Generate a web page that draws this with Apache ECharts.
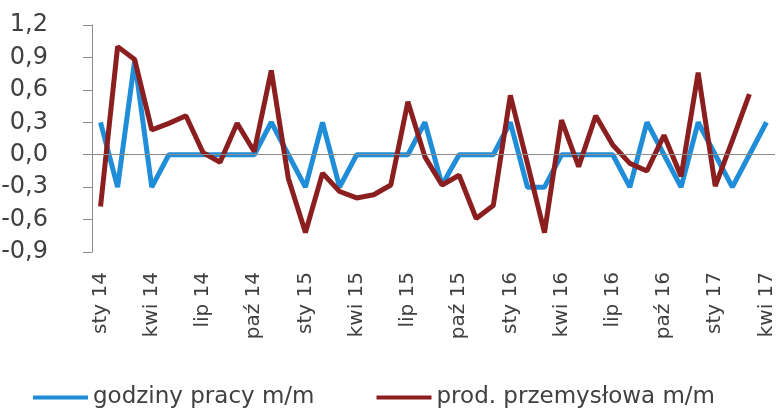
<!DOCTYPE html>
<html>
<head>
<meta charset="utf-8">
<script src="https://cdn.jsdelivr.net/npm/echarts@6/dist/echarts.min.js"></script>
<style>
  html, body { margin: 0; padding: 0; background: #fff; }
  #chart { width: 778px; height: 410px; }
</style>
</head>
<body>
<div id="chart"></div>
<script>
const months = ["sty", "lut", "mar", "kwi", "maj", "cze", "lip", "sie", "wrz", "paź", "lis", "gru"];
const categories = [];
for (const yr of ["14", "15", "16", "17"]) {
  for (const m of months) categories.push(m + " " + yr);
}
categories.length = 40; // sty 14 .. kwi 17

const godzinyPracy = [
  0.3, -0.3, 0.87, -0.3, 0, 0, 0, 0, 0, 0,
  0.3, 0, -0.3, 0.3, -0.3, 0, 0, 0, 0, 0.3,
  -0.28, 0, 0, 0, 0.3, -0.3, -0.3, 0, 0, 0,
  0, -0.3, 0.3, 0, -0.3, 0.3, 0, -0.3, 0, 0.3
];
const prodPrzemyslowa = [
  -0.48, 1.0, 0.88, 0.23, 0.29, 0.36, 0.02, -0.07, 0.29, 0.03,
  0.78, -0.22, -0.72, -0.17, -0.34, -0.4, -0.37, -0.28, 0.49, -0.02,
  -0.28, -0.19, -0.59, -0.47, 0.55, -0.08, -0.72, 0.32, -0.11, 0.36,
  0.09, -0.08, -0.15, 0.18, -0.2, 0.76, -0.29, 0.13, 0.56, null
];

const chart = echarts.init(document.getElementById("chart"));
const font = "'DejaVu Sans', sans-serif";

chart.setOption({
  animation: false,
  grid: { left: 92, right: 3, top: 25, bottom: 158, outerBoundsMode: "none" },
  legend: {
    top: 381,
    left: 28,
    icon: "rect",
    itemWidth: 55,
    itemHeight: 4,
    itemGap: 62,
    textStyle: { fontFamily: font, fontSize: 23, color: "#404040" },
    data: ["godziny pracy m/m", "prod. przemysłowa m/m"]
  },
  xAxis: {
    type: "category",
    data: categories,
    boundaryGap: true,
    axisLine: { show: false },
    axisTick: { show: false },
    axisLabel: {
      interval: 2,
      rotate: 90,
      margin: 20,
      fontFamily: font,
      fontSize: 20,
      color: "#404040"
    }
  },
  yAxis: {
    type: "value",
    min: -0.9,
    max: 1.2,
    interval: 0.3,
    splitLine: { show: false },
    axisLine: { show: true, lineStyle: { color: "#8c8c8c", width: 1 } },
    axisTick: { show: true, length: 9, lineStyle: { color: "#8c8c8c" } },
    axisLabel: {
      margin: 44,
      align: "right",
      fontFamily: font,
      fontSize: 24,
      color: "#404040",
      formatter: v => v.toFixed(1).replace(".", ",")
    }
  },
  series: [
    {
      name: "godziny pracy m/m",
      type: "line",
      data: godzinyPracy,
      symbol: "none",
      lineStyle: { color: "#1f8dd8", width: 5 },
      itemStyle: { color: "#1f8dd8" },
      markLine: {
        silent: true,
        symbol: "none",
        label: { show: false },
        lineStyle: { color: "#8c8c8c", width: 1, type: "solid" },
        data: [{ yAxis: 0 }]
      }
    },
    {
      name: "prod. przemysłowa m/m",
      type: "line",
      data: prodPrzemyslowa,
      symbol: "none",
      lineStyle: { color: "#8b1e1e", width: 5 },
      itemStyle: { color: "#8b1e1e" }
    }
  ]
});
</script>
</body>
</html>
